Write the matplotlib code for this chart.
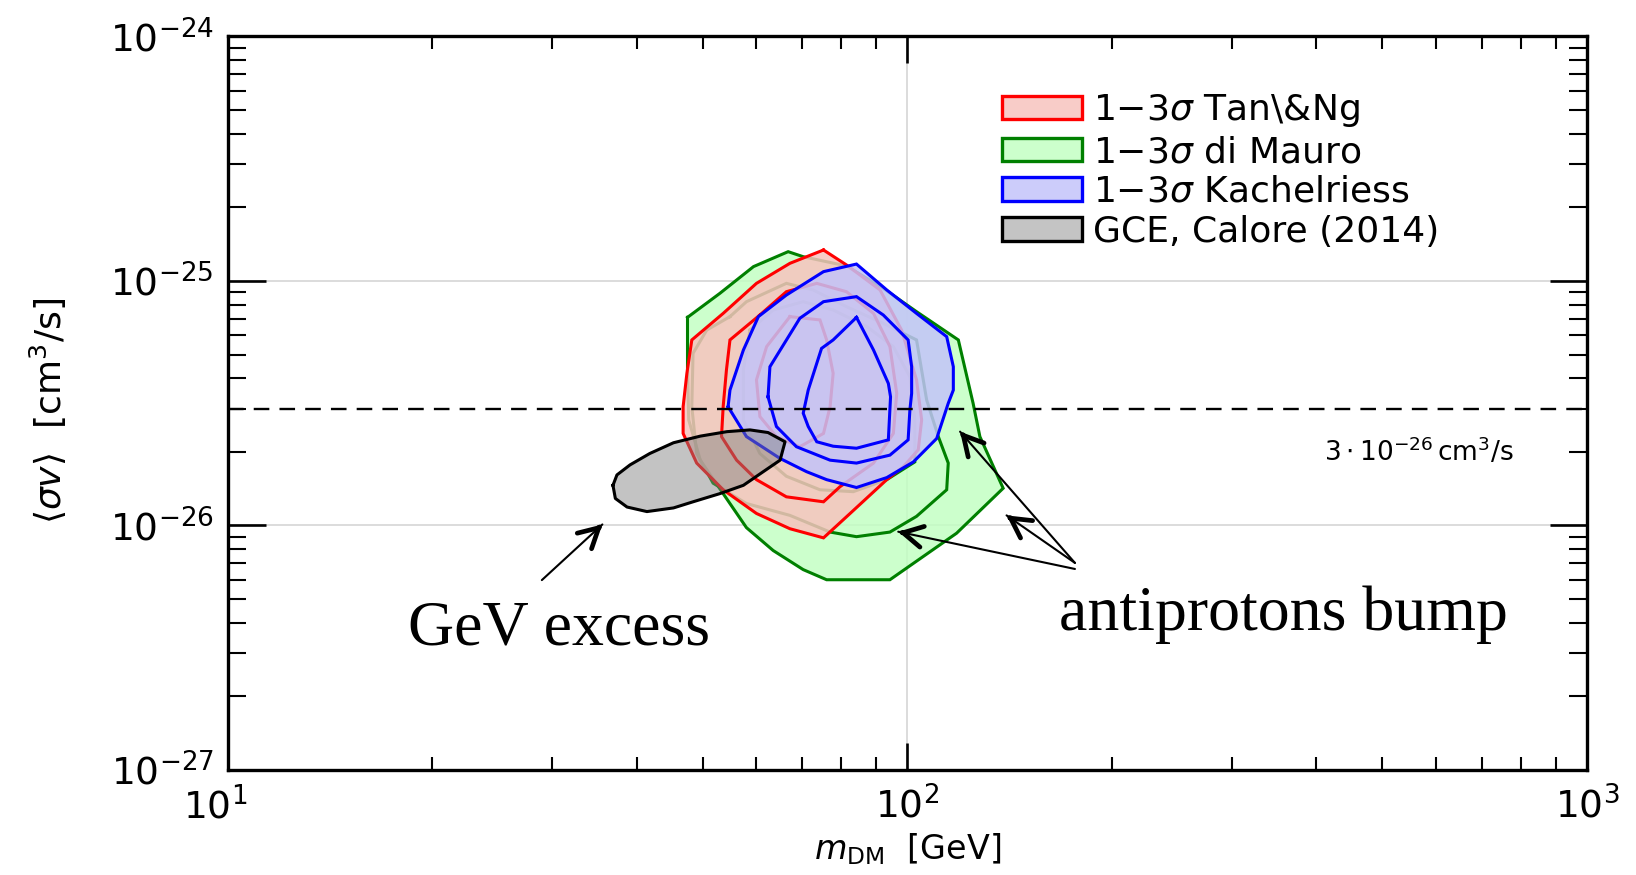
import numpy as np
import matplotlib
matplotlib.use("Agg")
import matplotlib.pyplot as plt
import matplotlib.patches as mpatches
import matplotlib.transforms as mtransforms
from matplotlib.ticker import LogLocator, NullFormatter

SV_UNIT = 1e-26  # sigma-v arrays below are in units of 1e-26 cm^3/s

# ---- Tan & Ng (red) : 3, 2, 1 sigma contours ----
tan_3s_m = [75.3, 81.4, 91.2, 98.1, 103.2, 105.0, 103.8, 98.7, 93.3, 82.4, 75.3, 67.2, 60.0, 53.6, 49.0, 46.8, 46.8, 47.4, 48.2, 53.6, 60.0, 67.2]
tan_3s_sv = [13.39, 11.63, 9.19, 6.30, 3.94, 2.70, 2.04, 1.74, 1.54, 1.12, 0.89, 0.97, 1.12, 1.40, 1.80, 2.38, 3.06, 4.19, 5.74, 7.37, 9.78, 11.81]
tan_2s_m = [60.7, 66.4, 73.6, 81.4, 89.2, 94.3, 96.5, 95.4, 89.2, 79.6, 75.3, 66.4, 60.0, 56.1, 53.3, 53.6, 54.2, 54.85]
tan_2s_sv = [7.26, 9.04, 9.78, 9.04, 7.37, 5.39, 3.47, 2.38, 1.80, 1.44, 1.25, 1.31, 1.54, 1.85, 2.31, 3.06, 4.33, 5.74]
tan_1s_m = [67.2, 74.4, 76.1, 77.8, 77.0, 75.3, 69.5, 64.2, 60.7, 60.0, 62.1]
tan_1s_sv = [7.15, 6.93, 5.74, 4.19, 3.06, 2.38, 2.10, 2.31, 2.79, 3.94, 5.39]

# ---- di Mauro (green) ----
dim_3s_m = [47.5, 53.0, 59.4, 66.8, 70.3, 81.4, 92.2, 103.2, 118.9, 125.0, 127.9, 138.4, 118.2, 94.3, 76.1, 70.3, 63.5, 58.0, 53.6, 49.6, 47.7, 47.5]
dim_3s_sv = [7.10, 8.90, 11.45, 13.18, 12.57, 11.52, 9.33, 7.49, 5.74, 3.16, 2.31, 1.42, 0.93, 0.60, 0.60, 0.66, 0.79, 0.98, 1.35, 1.85, 2.70, 4.33]
dim_2s_m = [54.85, 58.0, 66.4, 72.7, 81.4, 92.2, 103.2, 106.8, 111.1, 114.9, 114.3, 103.2, 94.3, 84.2, 77.0, 67.2, 58.0, 51.8, 49.0, 48.2, 48.4, 50.7]
dim_2s_sv = [7.15, 8.23, 9.78, 9.19, 7.85, 6.71, 5.74, 3.26, 2.31, 1.80, 1.40, 1.09, 0.94, 0.90, 0.94, 1.10, 1.23, 1.49, 1.97, 3.06, 5.06, 6.30]
dim_1s_m = [58.7, 63.5, 70.3, 77.8, 87.2, 95.4, 100.9, 102.6, 102.6, 93.3, 83.3, 74.4, 66.4, 60.7, 57.4, 57.4]
dim_1s_sv = [6.30, 7.61, 8.23, 7.61, 6.51, 5.39, 4.06, 2.70, 1.82, 1.54, 1.375, 1.40, 1.59, 1.97, 2.70, 4.33]

# ---- Kachelriess (blue) ----
kac_3s_m = [54.5, 54.85, 57.4, 60.4, 66.4, 75.3, 84.2, 93.3, 103.2, 114.3, 116.9, 116.9, 114.9, 110.5, 102.1, 93.3, 84.2, 76.1, 71.1, 65.0, 58.0]
kac_3s_sv = [3.06, 3.58, 5.22, 7.15, 8.76, 10.92, 11.73, 9.19, 7.37, 5.92, 4.46, 3.58, 3.16, 2.27, 1.82, 1.57, 1.43, 1.54, 1.66, 1.88, 2.31]
kac_2s_m = [62.4, 62.8, 69.5, 75.3, 84.2, 92.2, 100.3, 101.5, 101.5, 100.9, 100.3, 94.3, 84.2, 77.0, 68.7, 64.2]
kac_2s_sv = [3.36, 4.46, 7.04, 8.23, 8.63, 7.26, 5.74, 4.46, 3.47, 2.97, 2.24, 1.94, 1.80, 1.85, 2.10, 2.54]
kac_1s_m = [84.2, 89.2, 93.8, 94.5, 93.8, 84.2, 77.8, 73.6, 71.5, 70.3, 71.5, 74.8, 77.8]
kac_1s_sv = [7.10, 5.22, 3.81, 3.36, 2.24, 2.07, 2.11, 2.20, 2.54, 2.88, 3.58, 5.30, 5.74]

# ---- GCE, Calore (2014) ----
gce_m = [36.9, 37.4, 39.1, 41.8, 45.3, 49.6, 54.3, 58.7, 62.4, 66.1, 65.0, 61.4, 57.4, 53.0, 48.4, 45.3, 41.4, 38.7, 37.2]
gce_sv = [1.46, 1.61, 1.77, 1.97, 2.18, 2.32, 2.42, 2.46, 2.40, 2.20, 1.85, 1.66, 1.46, 1.35, 1.25, 1.18, 1.14, 1.19, 1.29]

thermal_sv = 3.0  # x 1e-26

legend_labels = [r"$1{-}3\sigma$ Tan\&Ng", r"$1{-}3\sigma$ di Mauro",
                 r"$1{-}3\sigma$ Kachelriess", "GCE, Calore (2014)"]

# annotations (data coords: GeV, 1e-26 cm^3/s)
gev_tail = (29.0, 0.598)
gev_head = (35.6, 1.01)
gev_text_pos = (18.4, 0.325)
pbar_heads = [(119.6, 2.42), (140.0, 1.10), (97.0, 0.943)]
pbar_tails = [(176.5, 0.703), (176.5, 0.703), (176.5, 0.664)]
pbar_text_pos = (167.0, 0.372)
thermal_text_pos = (566.0, 2.0)

x_ticks = [10, 100, 1000]
y_ticks = [1e-27, 1e-26, 1e-25, 1e-24]

# ---------------------------------------------------------------
plt.rcParams['font.family'] = ['DejaVu Sans']
plt.rcParams['mathtext.fontset'] = 'dejavusans'

fig = plt.figure(figsize=(16.36, 8.75), dpi=100)
ax = fig.add_axes([0.1391, 0.12, 0.9700 - 0.1391, 0.9583 - 0.12])
ax.set_xscale('log')
ax.set_yscale('log')
ax.set_xlim(10, 1000)
ax.set_ylim(1e-27, 1e-24)

A = 0.85
styles = {
    'green': dict(line='green', face=(0.765, 1.0, 0.765), leg=(0.80, 1.0, 0.80)),
    'red': dict(line='red', face=(0.968, 0.765, 0.746), leg=(0.973, 0.80, 0.784)),
    'blue': dict(line='blue', face=(0.765, 0.765, 0.976), leg=(0.80, 0.80, 0.98)),
}

def closed(a):
    a = np.asarray(a, dtype=float)
    return np.r_[a, a[0]]

def draw_set(sets, st, z):
    (m3, s3), _, _ = sets
    ax.fill(np.asarray(m3), np.asarray(s3) * SV_UNIT, facecolor=st['face'],
            alpha=A, edgecolor='none', zorder=z)
    for m, s in sets:
        ax.plot(closed(m), closed(s) * SV_UNIT, color=st['line'], lw=2.2,
                zorder=z + 0.05, solid_joinstyle='miter')

draw_set([(dim_3s_m, dim_3s_sv), (dim_2s_m, dim_2s_sv), (dim_1s_m, dim_1s_sv)], styles['green'], 2.0)
draw_set([(tan_3s_m, tan_3s_sv), (tan_2s_m, tan_2s_sv), (tan_1s_m, tan_1s_sv)], styles['red'], 2.2)
draw_set([(kac_3s_m, kac_3s_sv), (kac_2s_m, kac_2s_sv), (kac_1s_m, kac_1s_sv)], styles['blue'], 2.4)

ax.fill(np.asarray(gce_m), np.asarray(gce_sv) * SV_UNIT, facecolor=(0.5, 0.5, 0.5),
        alpha=0.47, edgecolor='none', zorder=2.6)
ax.plot(closed(gce_m), closed(gce_sv) * SV_UNIT, color='black', lw=2.2, zorder=2.65)

ax.axhline(thermal_sv * SV_UNIT, color='black', lw=1.7, dashes=(6.6, 4.3), zorder=3)
ax.text(thermal_text_pos[0], thermal_text_pos[1] * SV_UNIT,
        r"$3\cdot10^{-26}\,\mathrm{cm^3/s}$", fontsize=19, ha='center', va='center', zorder=4)

# axes styling
ax.grid(True, which='major', color='#dcdcdc', lw=1.4)
ax.set_axisbelow(True)
for sp in ax.spines.values():
    sp.set_linewidth(2.4)
ax.set_xticks(x_ticks)
ax.set_yticks(y_ticks)
ax.xaxis.set_minor_locator(LogLocator(base=10, subs=np.arange(2, 10), numticks=20))
ax.yaxis.set_minor_locator(LogLocator(base=10, subs=np.arange(2, 10), numticks=20))
ax.xaxis.set_minor_formatter(NullFormatter())
ax.yaxis.set_minor_formatter(NullFormatter())
ax.tick_params(which='both', direction='in', top=True, right=True)
ax.tick_params(axis='x', which='major', length=19.5, width=1.9, labelsize=27, pad=12)
ax.tick_params(axis='x', which='minor', length=9.5, width=1.5)
ax.tick_params(axis='y', which='major', length=27, width=1.9, labelsize=27, pad=10)
ax.tick_params(axis='y', which='minor', length=13, width=1.5)

# first x tick label sits a little to the left, as in the reference
first_lbl = ax.xaxis.get_major_ticks()[0].label1
first_lbl.set_transform(first_lbl.get_transform() +
                        mtransforms.ScaledTranslation(-0.12, 0, fig.dpi_scale_trans))

ax.set_xlabel(r"$m_{\rm DM}$  [GeV]", fontsize=24)
ax.set_ylabel(r"$\langle\sigma v\rangle$  [cm$^3$/s]", fontsize=26)
ax.xaxis.set_label_coords(0.5, -0.084)
ax.yaxis.set_label_coords(-0.117, 0.49)

# legend
handles = [
    mpatches.Patch(facecolor=styles['red']['leg'], edgecolor='red', lw=2.4, label=legend_labels[0]),
    mpatches.Patch(facecolor=styles['green']['leg'], edgecolor='green', lw=2.4, label=legend_labels[1]),
    mpatches.Patch(facecolor=styles['blue']['leg'], edgecolor='blue', lw=2.4, label=legend_labels[2]),
    mpatches.Patch(facecolor=(0.77, 0.77, 0.77), edgecolor='black', lw=2.4, label=legend_labels[3]),
]
leg = ax.legend(handles=handles, loc='upper left', bbox_to_anchor=(0.570, 0.924),
                frameon=False, fontsize=26, handlelength=2.2, handleheight=0.62,
                handletextpad=0.3, labelspacing=0.16, borderpad=0, borderaxespad=0)
leg.set_zorder(10)

# arrows
def arrow(tail, head):
    t = (tail[0], tail[1] * SV_UNIT)
    h = (head[0], head[1] * SV_UNIT)
    ax.annotate('', xy=h, xytext=t,
                arrowprops=dict(arrowstyle='-', lw=1.5, color='black', shrinkA=0, shrinkB=0),
                zorder=6)
    ph = ax.transData.transform(h)
    pt = ax.transData.transform(t)
    d = pt - ph
    d = d / np.hypot(*d)
    back = ax.transData.inverted().transform(ph + d * 5)
    ax.annotate('', xy=h, xytext=tuple(back),
                arrowprops=dict(arrowstyle='->,head_length=0.7,head_width=0.38', lw=3.4,
                                color='black', shrinkA=0, shrinkB=0, mutation_scale=20),
                zorder=6)

arrow(gev_tail, gev_head)
for tl, hd in zip(pbar_tails, pbar_heads):
    arrow(tl, hd)

ax.text(gev_text_pos[0], gev_text_pos[1] * SV_UNIT, "GeV excess", family='Liberation Serif',
        fontsize=46, ha='left', va='baseline', zorder=7)
ax.text(pbar_text_pos[0], pbar_text_pos[1] * SV_UNIT, "antiprotons bump", family='Liberation Serif',
        fontsize=46, ha='left', va='baseline', zorder=7)

fig.savefig("out.png", dpi=100)
